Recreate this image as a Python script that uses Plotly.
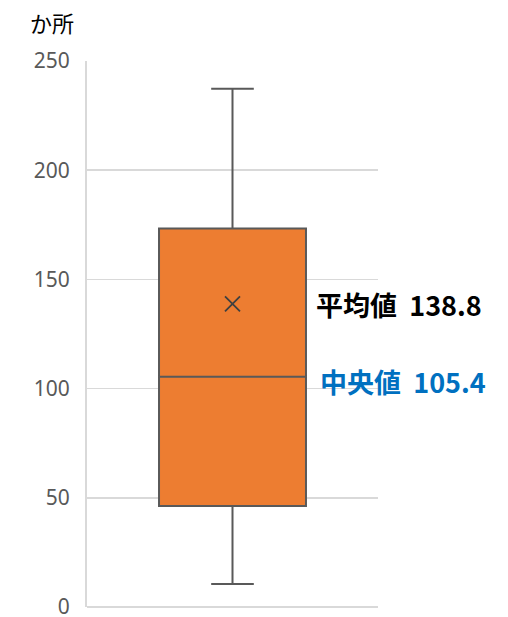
import plotly.graph_objects as go

# Data
category = ["データ"]
q1_vals = [46.3]
median_vals = [105.4]
q3_vals = [173.3]
min_vals = [10.5]
max_vals = [237.3]
mean_vals = [138.8]
y_ticks = [0, 50, 100, 150, 200, 250]
unit_label = "か所"
mean_label = "平均値"
median_label = "中央値"

fig = go.Figure()
fig.add_trace(go.Box(
    x=[0],
    q1=q1_vals, median=median_vals, q3=q3_vals,
    lowerfence=min_vals, upperfence=max_vals,
    name=category[0],
    fillcolor="#ED7D31",
    line=dict(color="#595959", width=2),
    width=0.505,
    whiskerwidth=0.29,
    boxpoints=False,
    hoverinfo="skip",
    showlegend=False,
))
fig.add_trace(go.Scatter(
    x=[0], y=mean_vals, mode="markers",
    marker=dict(symbol="x-thin", size=15, line=dict(color="#404040", width=1.8)),
    showlegend=False, hoverinfo="skip",
))

fig.add_annotation(
    x=0.78, xref="paper", y=mean_vals[0], yref="y", yshift=-1,
    text=f"<b>{mean_label}  {mean_vals[0]}</b>", showarrow=False,
    xanchor="left", yanchor="middle",
    font=dict(family="Noto Sans CJK JP", size=27, color="#000000"),
)
fig.add_annotation(
    x=0.795, xref="paper", y=median_vals[0], yref="y", yshift=-5,
    text=f"<b>{median_label}  {median_vals[0]}</b>", showarrow=False,
    xanchor="left", yanchor="middle",
    font=dict(family="Noto Sans CJK JP", size=27, color="#0070C0"),
)
fig.add_annotation(
    x=-0.203, xref="paper", y=1.0, yref="paper", yshift=39,
    text=unit_label, showarrow=False, xanchor="left", yanchor="middle",
    font=dict(family="Noto Sans CJK JP", size=22, color="#000000"),
)

fig.update_layout(
    width=508, height=617,
    margin=dict(l=87, r=130, t=61, b=10, autoexpand=False),
    paper_bgcolor="white", plot_bgcolor="white",
    xaxis=dict(range=[-0.5, 0.5], showticklabels=False, showgrid=False,
               zeroline=False, showline=False, automargin=False),
    yaxis=dict(range=[0, 250], tickvals=y_ticks, showgrid=True,
               gridcolor="#D9D9D9", gridwidth=1.5, zeroline=True,
               zerolinecolor="#D9D9D9", zerolinewidth=2,
               showline=True, linecolor="#D9D9D9", linewidth=2,
               ticks="", ticklen=0, ticklabelstandoff=11, automargin=False,
               ticklabeloverflow="allow",
               tickfont=dict(family="Noto Sans", size=21, color="#595959")),
)

fig.write_html("out.html",
               config={"displayModeBar": False, "staticPlot": True},
               post_script="document.body.style.margin='0';document.body.style.overflow='hidden';")
